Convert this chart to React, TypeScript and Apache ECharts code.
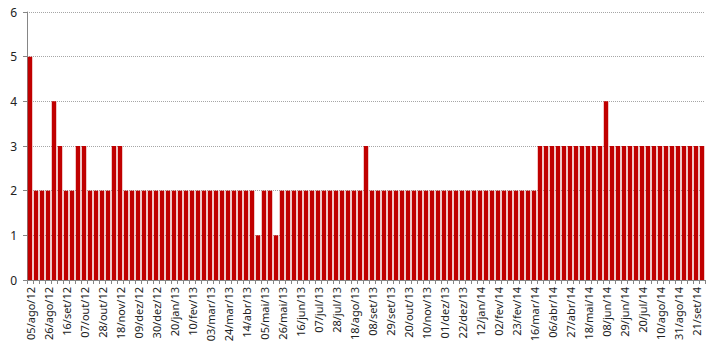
import React, { useEffect, useRef } from "react";
import * as echarts from "echarts";

const weeks2012 = [
  "05/ago/12", "12/ago/12", "19/ago/12", "26/ago/12", "02/set/12", "09/set/12", "16/set/12", "23/set/12",
  "30/set/12", "07/out/12", "14/out/12", "21/out/12", "28/out/12", "04/nov/12", "11/nov/12", "18/nov/12",
  "25/nov/12", "02/dez/12", "09/dez/12", "16/dez/12", "23/dez/12", "30/dez/12",
];
const weeks2013 = [
  "06/jan/13", "13/jan/13", "20/jan/13", "27/jan/13", "03/fev/13", "10/fev/13", "17/fev/13", "24/fev/13",
  "03/mar/13", "10/mar/13", "17/mar/13", "24/mar/13", "31/mar/13", "07/abr/13", "14/abr/13", "21/abr/13",
  "28/abr/13", "05/mai/13", "12/mai/13", "19/mai/13", "26/mai/13", "02/jun/13", "09/jun/13", "16/jun/13",
  "23/jun/13", "30/jun/13", "07/jul/13", "14/jul/13", "21/jul/13", "28/jul/13", "04/ago/13", "11/ago/13",
  "18/ago/13", "25/ago/13", "01/set/13", "08/set/13", "15/set/13", "22/set/13", "29/set/13", "06/out/13",
  "13/out/13", "20/out/13", "27/out/13", "03/nov/13", "10/nov/13", "17/nov/13", "24/nov/13", "01/dez/13",
  "08/dez/13", "15/dez/13", "22/dez/13", "29/dez/13",
];
const weeks2014 = [
  "05/jan/14", "12/jan/14", "19/jan/14", "26/jan/14", "02/fev/14", "09/fev/14", "16/fev/14", "23/fev/14",
  "02/mar/14", "09/mar/14", "16/mar/14", "23/mar/14", "30/mar/14", "06/abr/14", "13/abr/14", "20/abr/14",
  "27/abr/14", "04/mai/14", "11/mai/14", "18/mai/14", "25/mai/14", "01/jun/14", "08/jun/14", "15/jun/14",
  "22/jun/14", "29/jun/14", "06/jul/14", "13/jul/14", "20/jul/14", "27/jul/14", "03/ago/14", "10/ago/14",
  "17/ago/14", "24/ago/14", "31/ago/14", "07/set/14", "14/set/14", "21/set/14", "28/set/14",
];

const values2012 = [
  5, 2, 2, 2, 4, 3, 2, 2,
  3, 3, 2, 2, 2, 2, 3, 3,
  2, 2, 2, 2, 2, 2,
];
const values2013 = [
  2, 2, 2, 2, 2, 2, 2, 2,
  2, 2, 2, 2, 2, 2, 2, 2,
  1, 2, 2, 1, 2, 2, 2, 2,
  2, 2, 2, 2, 2, 2, 2, 2,
  2, 2, 3, 2, 2, 2, 2, 2,
  2, 2, 2, 2, 2, 2, 2, 2,
  2, 2, 2, 2,
];
const values2014 = [
  2, 2, 2, 2, 2, 2, 2, 2,
  2, 2, 2, 3, 3, 3, 3, 3,
  3, 3, 3, 3, 3, 3, 4, 3,
  3, 3, 3, 3, 3, 3, 3, 3,
  3, 3, 3, 3, 3, 3, 3,
];

const yTicks = [0, 1, 2, 3, 4, 5, 6];

const categories = [...weeks2012, ...weeks2013, ...weeks2014];
const values = [...values2012, ...values2013, ...values2014];

export default function App() {
  const ref = useRef<HTMLDivElement>(null);
  useEffect(() => {
    if (!ref.current) return;
    const chart = echarts.init(ref.current, undefined, { renderer: "svg" });
    chart.setOption({
      animation: false,
      backgroundColor: "#ffffff",
      grid: { left: 27, right: 13, top: 12, bottom: 73, containLabel: false },
      xAxis: {
        type: "category",
        data: categories,
        boundaryGap: true,
        axisLine: { show: true, lineStyle: { color: "#868686", width: 1 } },
        axisTick: { show: true, interval: 0, length: 4, lineStyle: { color: "#868686" } },
        axisLabel: {
          interval: 2,
          rotate: 90,
          margin: 7,
          fontFamily: "Noto Sans",
          fontSize: 11,
          color: "#222222",
        },
        splitLine: { show: false },
      },
      yAxis: {
        type: "value",
        min: yTicks[0],
        max: yTicks[yTicks.length - 1],
        interval: 1,
        axisLine: { show: true, lineStyle: { color: "#868686", width: 1 } },
        axisTick: { show: true, length: 4, lineStyle: { color: "#868686" } },
        axisLabel: {
          margin: 10,
          fontFamily: "Noto Sans",
          fontSize: 12,
          color: "#222222",
        },
        splitLine: { show: true, lineStyle: { color: "#a6a6a6", type: [1, 1], width: 1 } },
      },
      series: [
        {
          type: "bar",
          data: values,
          barCategoryGap: "26%",
          itemStyle: { color: "#C00000" },
        },
      ],
    });
    return () => chart.dispose();
  }, []);
  return (
    <div
      ref={ref}
      style={{ position: "fixed", left: 0, top: 0, width: 718, height: 353 }}
    />
  );
}
